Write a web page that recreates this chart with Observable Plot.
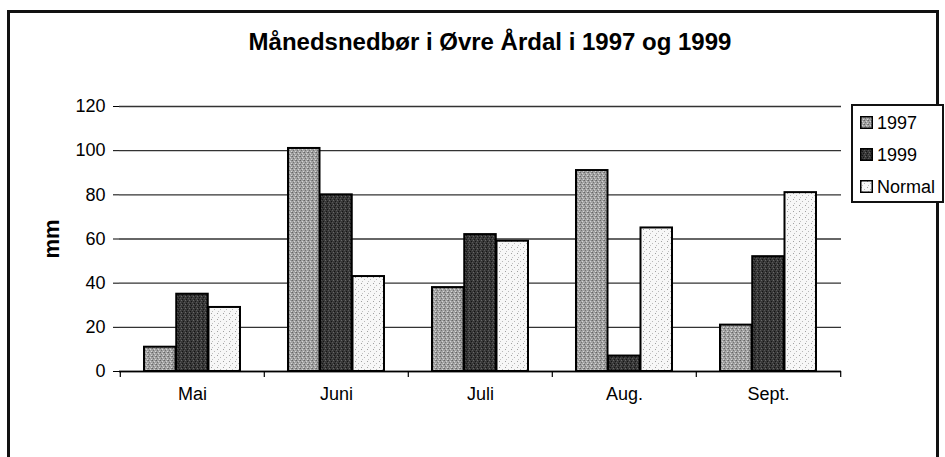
<!DOCTYPE html>
<html>
<head>
<meta charset="utf-8">
<script src="https://cdn.jsdelivr.net/npm/d3@7"></script>
<script src="https://cdn.jsdelivr.net/npm/@observablehq/plot@0.6"></script>
<style>
  html, body { margin: 0; padding: 0; background: #fff; overflow: hidden; }
  #wrap { position: relative; width: 945px; height: 457px; font-family: "Liberation Sans", Arial, sans-serif; color: #000; }
  #frame { position: absolute; left: 7px; top: 10px; width: 932px; height: 470px; border: 3px solid #111; box-sizing: border-box; }
  #title { position: absolute; left: 35px; width: 910px; top: 30px; text-align: center; font-size: 24px; line-height: 24px; font-weight: bold; }
  #chart { position: absolute; left: 0; top: 0; }
  #legend { position: absolute; left: 851px; top: 104px; width: 93px; height: 99px; border: 2px solid #111; box-sizing: border-box; background: #fff; }
  .lg-sw { position: absolute; left: 7px; width: 13px; height: 13px; }
  .lg-tx { position: absolute; left: 24px; font-size: 18px; line-height: 18px; }
  [aria-label="y-axis label"] { font-size: 22px; font-weight: bold; }
</style>
</head>
<body>
<div id="wrap">
  <div id="frame"></div>
  <div id="title">Månedsnedbør i Øvre Årdal i 1997 og 1999</div>
  <div id="chart"></div>
  <div id="legend"></div>
</div>
<svg width="0" height="0" style="position:absolute">
  <defs>
    <pattern id="p1997" width="4" height="4" patternUnits="userSpaceOnUse">
      <rect width="4" height="4" fill="#a2a2a2"/>
      <rect x="0" y="0" width="1" height="1" fill="#666"/>
      <rect x="2" y="1" width="1" height="1" fill="#d2d2d2"/>
      <rect x="1" y="2" width="1" height="1" fill="#727272"/>
      <rect x="3" y="3" width="1" height="1" fill="#d6d6d6"/>
      <rect x="3" y="0" width="1" height="1" fill="#848484"/>
    </pattern>
    <pattern id="p1999" width="4" height="4" patternUnits="userSpaceOnUse">
      <rect width="4" height="4" fill="#383838"/>
      <rect x="1" y="0" width="1" height="1" fill="#686868"/>
      <rect x="3" y="1" width="1" height="1" fill="#161616"/>
      <rect x="0" y="2" width="1" height="1" fill="#585858"/>
      <rect x="2" y="3" width="1" height="1" fill="#141414"/>
    </pattern>
    <pattern id="pNormal" width="6" height="6" patternUnits="userSpaceOnUse">
      <rect width="6" height="6" fill="#f7f7f7"/>
      <rect x="1" y="1" width="1" height="1" fill="#a0a0a0"/>
      <rect x="4" y="3" width="1" height="1" fill="#b8b8b8"/>
      <rect x="2" y="5" width="1" height="1" fill="#c0c0c0"/>
    </pattern>
  </defs>
</svg>
<script>
// ---- data ----
const months = ["Mai", "Juni", "Juli", "Aug.", "Sept."];
const seriesNames = ["1997", "1999", "Normal"];
const v1997 = [11, 101, 38, 91, 21];
const v1999 = [35, 80, 62, 7, 52];
const vNormal = [29, 43, 59, 65, 81];
const yTicks = [0, 20, 40, 60, 80, 100, 120];
const yLabel = "mm";

// ---- styles ----
const fills = {"1997": "url(#p1997)", "1999": "url(#p1999)", "Normal": "url(#pNormal)"};
const W = 945, H = 457;
const mL = 119, mR = 104, mT = 106, mB = 86;
const padIn = 0.33, padOut = 0.165;
const step = (W - mL - mR) / months.length;
const bw = step * (1 - padIn);
const third = bw / 3;

const rows = (vals) => months.map((m, i) => ({month: m, value: vals[i]}));
const seriesData = [rows(v1997), rows(v1999), rows(vNormal)];

const barMarks = seriesData.map((data, j) =>
  Plot.barY(data, {
    x: "month", y: "value",
    fill: fills[seriesNames[j]],
    stroke: "#000", strokeWidth: 2,
    insetLeft: j * third, insetRight: (2 - j) * third
  })
);

const chart = Plot.plot({
  width: W, height: H,
  marginLeft: mL, marginRight: mR, marginTop: mT, marginBottom: mB,
  style: {fontFamily: "'Liberation Sans', Arial, sans-serif", fontSize: "18px", color: "#000", background: "transparent", overflow: "visible"},
  x: {domain: months, paddingInner: padIn, paddingOuter: padOut, axis: null},
  y: {domain: [0, 120], axis: null},
  marks: [
    Plot.gridY(yTicks, {stroke: "#333", strokeOpacity: 1, strokeWidth: 1.4}),
    ...barMarks,
    Plot.ruleY([0], {stroke: "#000", strokeWidth: 1.6}),
    Plot.axisY({ticks: yTicks, tickSize: 6, tickPadding: 8, fontSize: 18, label: yLabel, labelAnchor: "center", labelArrow: "none", labelOffset: 76, line: true, stroke: "#000"}),
    Plot.axisX({tickSize: 0, tickPadding: 16, fontSize: 18, label: null}),
    Plot.ruleX(months, {x: d => d, dx: -step / 2, y1: 0, y2: 0, insetBottom: -6, stroke: "#000", strokeWidth: 1.2}),
    Plot.ruleX([months[months.length - 1]], {x: d => d, dx: step / 2, y1: 0, y2: 0, insetBottom: -6, stroke: "#000", strokeWidth: 1.2})
  ]
});
document.getElementById("chart").appendChild(chart);

// ---- legend ----
const legend = document.getElementById("legend");
const baselines = [23, 55, 87];
seriesNames.forEach((name, j) => {
  const sw = document.createElementNS("http://www.w3.org/2000/svg", "svg");
  sw.setAttribute("class", "lg-sw");
  sw.setAttribute("width", 13); sw.setAttribute("height", 13);
  sw.style.top = (baselines[j] - 13) + "px";
  sw.innerHTML = `<rect x="0.75" y="0.75" width="11.5" height="11.5" fill="${fills[name]}" stroke="#000" stroke-width="1.5"/>`;
  legend.appendChild(sw);
  const tx = document.createElement("div");
  tx.className = "lg-tx";
  tx.textContent = name;
  tx.style.top = (baselines[j] - 15) + "px";
  legend.appendChild(tx);
});
</script>
</body>
</html>
